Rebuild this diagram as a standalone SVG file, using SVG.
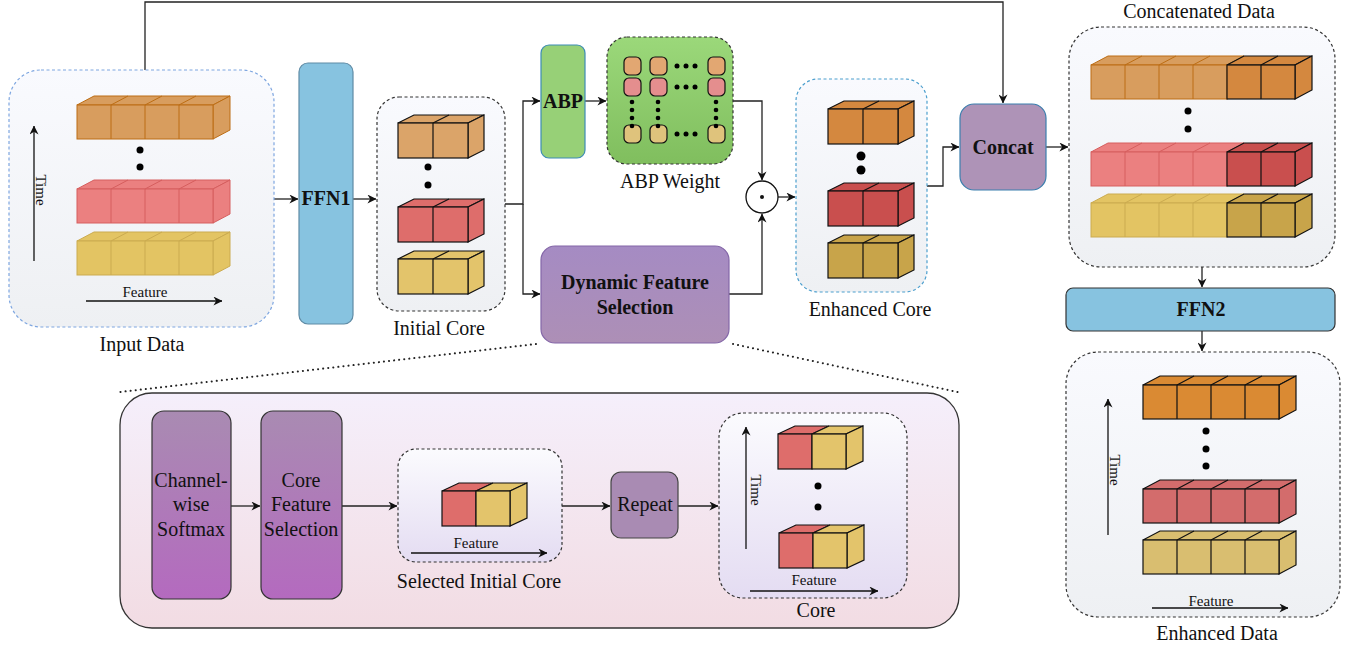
<svg xmlns="http://www.w3.org/2000/svg" xmlns:xlink="http://www.w3.org/1999/xlink" width="1348" height="649" viewBox="0 0 1348 649">
  <style>
    .lbl { font-family: "Liberation Serif", "Times New Roman", serif; font-size: 20px; text-anchor: middle; fill: #111; }
    .b { font-weight: bold; }
    .sm { font-size: 15px; }
    .conn { fill: none; stroke: #222; stroke-width: 1.3; }
    .axis { fill: none; stroke: #111; stroke-width: 1.3; }
    .dash { stroke-dasharray: 3 2.5; stroke-width: 1.2; }
    .dots { fill: none; stroke: #222; stroke-width: 2; stroke-dasharray: 0.1 5; stroke-linecap: round; }
    .lo { fill: #D89D5E; stroke: #BC6D14; }
    .lr { fill: #EB8080; stroke: #D65E5E; }
    .ly { fill: #E3C463; stroke: #CBAB50; }
    .io { fill: #DBA469; stroke: #111; stroke-width: 1.2; }
    .ir { fill: #DE6D6B; stroke: #111; stroke-width: 1.2; }
    .iy { fill: #E3C46B; stroke: #111; stroke-width: 1.2; }
    .eo { fill: #D4883F; stroke: #111; stroke-width: 1.2; }
    .er { fill: #C94F4E; stroke: #111; stroke-width: 1.2; }
    .ey { fill: #C8A44A; stroke: #111; stroke-width: 1.2; }
    .do { fill: #DA8A33; stroke: #111; stroke-width: 1.2; }
    .dr { fill: #D36C6C; stroke: #111; stroke-width: 1.2; }
    .dy { fill: #D9BE70; stroke: #111; stroke-width: 1.2; }
    .cell { stroke: #111; stroke-width: 1.2; }
    .wo { fill: #E2A772; }
    .wr { fill: #E48E8E; }
    .wy { fill: #DFC37C; }
  </style>
  <defs>
    <marker id="arr" viewBox="0 0 10 10" refX="9.5" refY="5" markerWidth="9" markerHeight="9" markerUnits="userSpaceOnUse" orient="auto">
      <path d="M0,0 L10,5 L0,10 L3,5 Z" fill="#111"/>
    </marker>
    <linearGradient id="gLight" x1="0" y1="0" x2="0" y2="1">
      <stop offset="0" stop-color="#F9FAFE"/>
      <stop offset="1" stop-color="#EEF0F3"/>
    </linearGradient>
    <linearGradient id="gLilac" x1="0" y1="0" x2="0" y2="1">
      <stop offset="0" stop-color="#FBFBFE"/>
      <stop offset="1" stop-color="#E4DCF2"/>
    </linearGradient>
    <linearGradient id="gGreen" x1="0" y1="0" x2="0" y2="1">
      <stop offset="0" stop-color="#9BD87A"/>
      <stop offset="1" stop-color="#80BE5E"/>
    </linearGradient>
    <linearGradient id="gDfs" x1="0" y1="0" x2="0" y2="1">
      <stop offset="0" stop-color="#A58BC3"/>
      <stop offset="1" stop-color="#AD8FB6"/>
    </linearGradient>
    <linearGradient id="gStep" x1="0" y1="0" x2="0" y2="1">
      <stop offset="0" stop-color="#A98BB2"/>
      <stop offset="1" stop-color="#B46ABF"/>
    </linearGradient>
    <linearGradient id="gPanel" x1="0" y1="0" x2="0" y2="1">
      <stop offset="0" stop-color="#F5EFFB"/>
      <stop offset="1" stop-color="#F2DCE3"/>
    </linearGradient>
    <!-- four-cell row of cubes, front top-left at origin -->
    <g id="r4">
      <path d="M0,0 L17,-9 L153,-9 L136,0 Z"/>
      <path d="M136,0 L153,-9 L153,25 L136,34 Z"/>
      <rect width="136" height="34"/>
      <path d="M34,0V34M68,0V34M102,0V34M34,0L51,-9M68,0L85,-9M102,0L119,-9" fill="none"/>
    </g>
    <!-- two-cell row, core size -->
    <g id="r2">
      <path d="M0,0 L16,-8 L86,-8 L70,0 Z"/>
      <path d="M70,0 L86,-8 L86,27 L70,35 Z"/>
      <rect width="70" height="35"/>
      <path d="M35,0V35M35,0L51,-8" fill="none"/>
    </g>
    <!-- two-cell row matching the four-cell geometry -->
    <g id="r2b">
      <path d="M0,0 L17,-9 L85,-9 L68,0 Z"/>
      <path d="M68,0 L85,-9 L85,25 L68,34 Z"/>
      <rect width="68" height="34"/>
      <path d="M34,0V34M34,0L51,-9" fill="none"/>
    </g>
    <!-- single selected core cube: red + yellow cell -->
    <g id="ry">
      <path d="M0,0 L17,-8 L51,-8 L34,0 Z" fill="#DE6D6B" stroke="#111" stroke-width="1.2"/>
      <rect width="34" height="35" fill="#DE6D6B" stroke="#111" stroke-width="1.2"/>
      <path d="M34,0 L51,-8 L85,-8 L68,0 Z" fill="#E3C46B" stroke="#111" stroke-width="1.2"/>
      <path d="M68,0 L85,-8 L85,27 L68,35 Z" fill="#E3C46B" stroke="#111" stroke-width="1.2"/>
      <rect x="34" width="34" height="35" fill="#E3C46B" stroke="#111" stroke-width="1.2"/>
    </g>
  </defs>

  <rect width="1348" height="649" fill="#FFFFFF"/>

  <!-- background panel of the feature-selection detail -->
  <g id="dfs-panel">
    <rect x="120" y="393" width="839" height="235" rx="32" fill="url(#gPanel)" stroke="#333" stroke-width="1.3"/>
  </g>

  <!-- connectors -->
  <g id="connectors">
    <path class="conn" d="M145,70 V2 H1003 V103" marker-end="url(#arr)"/>
    <path class="conn" d="M274,199 H298" marker-end="url(#arr)"/>
    <path class="conn" d="M353,199 H376" marker-end="url(#arr)"/>
    <path class="conn" d="M505,204 H523 V101 H540" marker-end="url(#arr)"/>
    <path class="conn" d="M523,204 V294 H540" marker-end="url(#arr)"/>
    <path class="conn" d="M585,101 H606" marker-end="url(#arr)"/>
    <path class="conn" d="M733,101 H762 V180" marker-end="url(#arr)"/>
    <path class="conn" d="M729,294 H762 V214" marker-end="url(#arr)"/>
    <path class="conn" d="M778,197 H795" marker-end="url(#arr)"/>
    <path class="conn" d="M927,186 H943 V147 H959" marker-end="url(#arr)"/>
    <path class="conn" d="M1046,147 H1068" marker-end="url(#arr)"/>
    <path class="conn" d="M1202,267 V287" stroke="#555" marker-end="url(#arr)"/>
    <path class="conn" d="M1202,331 V351" marker-end="url(#arr)"/>
    <path class="conn" d="M231,506 H260" marker-end="url(#arr)"/>
    <path class="conn" d="M342,506 H397" marker-end="url(#arr)"/>
    <path class="conn" d="M562,506 H610" marker-end="url(#arr)"/>
    <path class="conn" d="M678,506 H718" marker-end="url(#arr)"/>
    <path class="dots" d="M536,344 L120,392"/>
    <path class="dots" d="M733,344 L962,393"/>
  </g>

  <!-- input data -->
  <g id="input-data">
    <rect x="9" y="70" width="265" height="257" rx="32" fill="url(#gLight)" stroke="#7EA6E0" class="dash"/>
    <use href="#r4" x="77" y="105" class="lo"/>
    <circle cx="140" cy="150" r="3.5" fill="#000"/>
    <circle cx="140" cy="167" r="3.5" fill="#000"/>
    <use href="#r4" x="77" y="189" class="lr"/>
    <use href="#r4" x="77" y="241" class="ly"/>
    <path class="axis" d="M34,261 V126" marker-end="url(#arr)"/>
    <text class="lbl sm" transform="translate(36,190) rotate(90)">Time</text>
    <path class="axis" d="M86,301 H222" marker-end="url(#arr)"/>
    <text class="lbl sm" x="145" y="297">Feature</text>
    <text class="lbl" x="142" y="351">Input Data</text>
  </g>

  <!-- FFN1 -->
  <g id="ffn1">
    <rect x="299" y="63" width="54" height="261" rx="9" fill="#87C3E0" stroke="#5F8BA5" stroke-width="1.2"/>
    <text class="lbl b" x="326" y="205">FFN1</text>
  </g>

  <!-- initial core -->
  <g id="initial-core">
    <rect x="377" y="97" width="128" height="214" rx="22" fill="url(#gLight)" stroke="#333" class="dash"/>
    <use href="#r2" x="398" y="123" class="io"/>
    <circle cx="428" cy="167" r="3.5" fill="#000"/>
    <circle cx="428" cy="185" r="3.5" fill="#000"/>
    <use href="#r2" x="398" y="207" class="ir"/>
    <use href="#r2" x="398" y="259" class="iy"/>
    <text class="lbl" x="439" y="335">Initial Core</text>
  </g>

  <!-- ABP -->
  <g id="abp">
    <rect x="541" y="45" width="44" height="113" rx="8" fill="#97D077" stroke="#3D8CB5" stroke-width="1.2"/>
    <text class="lbl b" x="563" y="108">ABP</text>
  </g>

  <!-- ABP weight -->
  <g id="abp-weight">
    <rect x="607" y="37" width="126" height="127" rx="20" fill="url(#gGreen)" stroke="#333" class="dash"/>
    <rect class="cell wo" x="624" y="57" width="17" height="18" rx="5"/>
    <rect class="cell wo" x="650" y="57" width="17" height="18" rx="5"/>
    <rect class="cell wo" x="708" y="57" width="17" height="18" rx="5"/>
    <rect class="cell wr" x="624" y="78" width="17" height="18" rx="5"/>
    <rect class="cell wr" x="650" y="78" width="17" height="18" rx="5"/>
    <rect class="cell wr" x="708" y="78" width="17" height="18" rx="5"/>
    <rect class="cell wy" x="624" y="125" width="17" height="18" rx="5"/>
    <rect class="cell wy" x="650" y="125" width="17" height="18" rx="5"/>
    <rect class="cell wy" x="708" y="125" width="17" height="18" rx="5"/>
    <g fill="#000">
      <circle cx="677" cy="66" r="2.5"/><circle cx="686" cy="66" r="2.5"/><circle cx="695" cy="66" r="2.5"/>
      <circle cx="677" cy="87" r="2.5"/><circle cx="686" cy="87" r="2.5"/><circle cx="695" cy="87" r="2.5"/>
      <circle cx="677" cy="134" r="2.5"/><circle cx="686" cy="134" r="2.5"/><circle cx="695" cy="134" r="2.5"/>
      <circle cx="632" cy="102" r="2.3"/><circle cx="632" cy="110" r="2.3"/><circle cx="632" cy="118" r="2.3"/><circle cx="632" cy="126" r="2.3"/>
      <circle cx="658" cy="102" r="2.3"/><circle cx="658" cy="110" r="2.3"/><circle cx="658" cy="118" r="2.3"/><circle cx="658" cy="126" r="2.3"/>
      <circle cx="716" cy="102" r="2.3"/><circle cx="716" cy="110" r="2.3"/><circle cx="716" cy="118" r="2.3"/><circle cx="716" cy="126" r="2.3"/>
    </g>
    <text class="lbl" x="670" y="188">ABP Weight</text>
  </g>

  <!-- dynamic feature selection -->
  <g id="dfs">
    <rect x="541" y="246" width="188" height="97" rx="14" fill="url(#gDfs)" stroke="#8467A8" stroke-width="1.2"/>
    <text class="lbl b" x="635" y="289">Dynamic Feature</text>
    <text class="lbl b" x="635" y="314">Selection</text>
  </g>

  <!-- element-wise product -->
  <g id="odot">
    <circle cx="762" cy="197" r="16" fill="#FFF" stroke="#111" stroke-width="1.3"/>
    <circle cx="762" cy="197" r="2" fill="#111"/>
  </g>

  <!-- enhanced core -->
  <g id="enhanced-core">
    <rect x="796" y="79" width="131" height="213" rx="22" fill="url(#gLight)" stroke="#4C9FCE" class="dash"/>
    <use href="#r2" x="828" y="109" class="eo"/>
    <circle cx="861" cy="156" r="4.5" fill="#000"/>
    <circle cx="861" cy="170" r="4.5" fill="#000"/>
    <use href="#r2" x="828" y="191" class="er"/>
    <use href="#r2" x="828" y="243" class="ey"/>
    <text class="lbl" x="870" y="316">Enhanced Core</text>
  </g>

  <!-- concat -->
  <g id="concat">
    <rect x="960" y="104" width="86" height="86" rx="14" fill="#AE93B7" stroke="#3B7FAE" stroke-width="1.2"/>
    <text class="lbl b" x="1003" y="154">Concat</text>
  </g>

  <!-- concatenated data -->
  <g id="concatenated-data">
    <text class="lbl" x="1199" y="18">Concatenated Data</text>
    <rect x="1069" y="27" width="266" height="240" rx="32" fill="url(#gLight)" stroke="#333" class="dash"/>
    <use href="#r4" x="1091" y="65" class="lo"/>
    <use href="#r2b" x="1227" y="65" class="eo"/>
    <circle cx="1188" cy="111" r="3.5" fill="#000"/>
    <circle cx="1188" cy="129" r="3.5" fill="#000"/>
    <use href="#r4" x="1091" y="152" class="lr"/>
    <use href="#r2b" x="1227" y="152" class="er"/>
    <use href="#r4" x="1091" y="203" class="ly"/>
    <use href="#r2b" x="1227" y="203" class="ey"/>
  </g>

  <!-- FFN2 -->
  <g id="ffn2">
    <rect x="1066" y="288" width="269" height="43" rx="7" fill="#87C3E0" stroke="#333" stroke-width="1.2"/>
    <text class="lbl b" x="1201" y="316">FFN2</text>
  </g>

  <!-- enhanced data -->
  <g id="enhanced-data">
    <rect x="1066" y="352" width="274" height="265" rx="32" fill="url(#gLight)" stroke="#333" class="dash"/>
    <use href="#r4" x="1143" y="385" class="do"/>
    <circle cx="1206" cy="431" r="3.5" fill="#000"/>
    <circle cx="1206" cy="449" r="3.5" fill="#000"/>
    <circle cx="1206" cy="466" r="3.5" fill="#000"/>
    <use href="#r4" x="1143" y="489" class="dr"/>
    <use href="#r4" x="1143" y="540" class="dy"/>
    <path class="axis" d="M1108,535 V399" marker-end="url(#arr)"/>
    <text class="lbl sm" transform="translate(1110,470) rotate(90)">Time</text>
    <path class="axis" d="M1152,608 H1288" marker-end="url(#arr)"/>
    <text class="lbl sm" x="1211" y="606">Feature</text>
    <text class="lbl" x="1217" y="640">Enhanced Data</text>
  </g>

  <g id="channel-softmax">
    <rect x="152" y="411" width="79" height="188" rx="12" fill="url(#gStep)" stroke="#333" stroke-width="1.2"/>
    <text class="lbl" x="191" y="487">Channel-</text>
    <text class="lbl" x="191" y="511">wise</text>
    <text class="lbl" x="191" y="536">Softmax</text>
  </g>

  <g id="core-feature-selection">
    <rect x="261" y="411" width="81" height="188" rx="12" fill="url(#gStep)" stroke="#333" stroke-width="1.2"/>
    <text class="lbl" x="301" y="487">Core</text>
    <text class="lbl" x="301" y="511">Feature</text>
    <text class="lbl" x="301" y="536">Selection</text>
  </g>

  <g id="selected-initial-core">
    <rect x="398" y="449" width="164" height="113" rx="18" fill="url(#gLilac)" stroke="#333" class="dash"/>
    <use href="#ry" x="442" y="491"/>
    <text class="lbl sm" x="476" y="548">Feature</text>
    <path class="axis" d="M411,553 H547" marker-end="url(#arr)"/>
    <text class="lbl" x="479" y="588">Selected Initial Core</text>
  </g>

  <g id="repeat">
    <rect x="611" y="472" width="67" height="66" rx="10" fill="#A98BB3" stroke="#444" stroke-width="1.2"/>
    <text class="lbl" x="645" y="511">Repeat</text>
  </g>

  <g id="core">
    <rect x="719" y="413" width="188" height="185" rx="24" fill="url(#gLilac)" stroke="#333" class="dash"/>
    <path class="axis" d="M746,549 V427" marker-end="url(#arr)"/>
    <text class="lbl sm" transform="translate(751,490) rotate(90)">Time</text>
    <use href="#ry" x="778" y="434"/>
    <circle cx="818" cy="486" r="3.5" fill="#000"/>
    <circle cx="818" cy="507" r="3.5" fill="#000"/>
    <use href="#ry" x="779" y="533"/>
    <text class="lbl sm" x="814" y="585">Feature</text>
    <path class="axis" d="M750,591 H878" marker-end="url(#arr)"/>
    <text class="lbl" x="816" y="617">Core</text>
  </g>
</svg>
